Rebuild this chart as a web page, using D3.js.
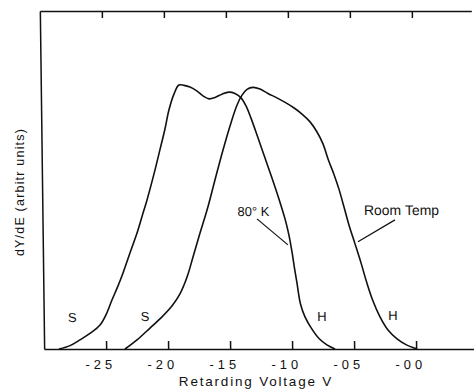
<!DOCTYPE html>
<html><head><meta charset="utf-8">
<script src="https://cdn.jsdelivr.net/npm/d3@7"></script>
<style>body{margin:0;background:#fff}svg{display:block}</style>
</head><body><svg id="c" width="474" height="389"></svg>
<script>
// ---- data ----
const xTickValues = [-25, -20, -15, -10, -5, 0];
const xTickLabels = ["-25", "-20", "-15", "-10", "-05", "-00"];
const xTitle = "Retarding Voltage V";
const yTitle = "dY/dE (arbitr units)";

const curve80K_V = [-28.80, -27.91, -27.10, -26.29, -25.47, -24.98, -24.48, -24.02, -23.56, -22.98, -22.39, -21.97, -21.55, -20.96, -20.46, -20.03, -19.69, -19.27, -18.86, -18.45, -17.97, -17.40, -16.93, -16.44, -15.96, -15.40, -14.83, -14.35, -13.86, -13.47, -13.08, -12.53, -11.99, -11.45, -10.91, -10.44, -10.14, -9.91, -9.73, -9.54, -9.28, -8.93, -8.42, -7.82, -7.19, -6.54];
const curve80K_Y = [0, 1.0, 2.7, 4.6, 7.1, 10.1, 14.5, 18.3, 22.5, 28.4, 34.3, 39.2, 44.1, 51.8, 58.9, 65.1, 70.7, 75.4, 78.1, 78.0, 77.5, 76.3, 74.9, 74.0, 74.4, 75.4, 76.0, 75.6, 74.3, 71.9, 68.3, 62.4, 56.5, 50.6, 44.4, 38.5, 33.7, 28.7, 24.0, 19.5, 13.3, 9.5, 6.1, 3.1, 1.2, 0];

const curveRoom_V = [-23.48, -22.50, -21.44, -20.46, -19.65, -18.99, -18.40, -17.90, -17.31, -16.72, -16.05, -15.37, -14.70, -14.19, -13.78, -13.37, -12.89, -12.32, -11.69, -10.97, -10.24, -9.59, -8.96, -8.32, -7.77, -7.30, -6.88, -6.46, -6.06, -5.67, -5.29, -4.82, -4.35, -3.90, -3.43, -2.88, -2.25, -1.53, -0.81, 0.07];
const curveRoom_Y = [0, 2.7, 6.2, 9.5, 12.7, 16.3, 21.3, 27.2, 34.3, 41.1, 50.0, 58.9, 66.9, 72.2, 75.1, 76.8, 77.4, 76.9, 75.6, 74.3, 72.8, 71.3, 69.5, 67.2, 64.2, 60.7, 55.9, 51.8, 47.3, 42.0, 36.7, 31.1, 25.4, 19.5, 14.2, 9.5, 5.6, 3.0, 1.3, 0];

const curveNames = ["80° K", "Room Temp"];
const edgeLabels = ["S", "S", "H", "H"];

// ---- layout ----
const x = d3.scaleLinear().domain([-30, 4.8]).range([42, 473.5]);
const y = d3.scaleLinear().domain([0, 100]).range([349, 11]);

const svg = d3.select("#c");
const g = svg.append("g")
  .attr("transform", "translate(0,181) skewX(0.73) translate(0,-181)");

const font = "'Liberation Sans', Arial, sans-serif";
const ink = "#111";

// bottom axis (ticks pointing up)
const xb = g.append("g").attr("transform", `translate(0,${y(0)})`)
  .call(d3.axisBottom(x).tickValues(xTickValues)
    .tickFormat((d, i) => xTickLabels[i])
    .tickSizeInner(-8).tickSizeOuter(0).tickPadding(11));
xb.selectAll("text").attr("font-family", font).attr("font-size", 13)
  .attr("letter-spacing", "4px").attr("dx", "-6px").attr("fill", ink);

// top axis (ticks pointing down, no labels)
g.append("g").attr("transform", `translate(0,${y(100)})`)
  .call(d3.axisTop(x).tickValues(xTickValues).tickFormat("")
    .tickSizeInner(-7).tickSizeOuter(0));

// left axis (line only)
g.append("g").attr("transform", `translate(${x(-30)},0)`)
  .call(d3.axisLeft(y).tickValues([]).tickSizeOuter(0));

g.selectAll(".domain, .tick line").attr("stroke", ink).attr("stroke-width", 1.5);

// curves
const line = d3.line().x(d => x(d[0])).y(d => y(d[1])).curve(d3.curveCatmullRom.alpha(0.5));
const c1 = curve80K_V.map((v, i) => [v, curve80K_Y[i]]);
const c2 = curveRoom_V.map((v, i) => [v, curveRoom_Y[i]]);
[c1, c2].forEach(c => g.append("path").datum(c).attr("d", line)
  .attr("fill", "none").attr("stroke", ink).attr("stroke-width", 1.6)
  .attr("stroke-linejoin", "round"));

// edge labels
const edgePos = [[-27.7, 9.2], [-21.84, 9.5], [-7.56, 9.5], [-1.84, 9.8]];
edgeLabels.forEach((t, i) => g.append("text")
  .attr("x", x(edgePos[i][0])).attr("y", y(edgePos[i][1]))
  .attr("text-anchor", "middle").attr("dominant-baseline", "central")
  .attr("font-family", font).attr("font-size", 13).attr("fill", ink).text(t));

// curve name labels + leaders
const namePos = [[-12.98, 40.8], [-1.04, 41.2]];
const nameSize = [13, 14];
const leaders = [[[-12.70, 38.5], [-10.23, 30.8]], [[-1.57, 38.2], [-4.58, 31.7]]];
curveNames.forEach((t, i) => {
  g.append("text").attr("x", x(namePos[i][0])).attr("y", y(namePos[i][1]))
    .attr("text-anchor", "middle").attr("dominant-baseline", "central")
    .attr("font-family", font).attr("font-size", nameSize[i]).attr("fill", ink).text(t);
  g.append("line")
    .attr("x1", x(leaders[i][0][0])).attr("y1", y(leaders[i][0][1]))
    .attr("x2", x(leaders[i][1][0])).attr("y2", y(leaders[i][1][1]))
    .attr("stroke", ink).attr("stroke-width", 1.2);
});

// axis titles
svg.append("text").attr("x", 256).attr("y", 386)
  .attr("text-anchor", "middle").attr("font-family", font).attr("font-size", 13.5)
  .attr("letter-spacing", "1.8px").attr("fill", ink).text(xTitle);
svg.append("text").attr("transform", "translate(24,192) rotate(-90)")
  .attr("text-anchor", "middle").attr("font-family", font).attr("font-size", 12.5)
  .attr("letter-spacing", "1.2px").attr("fill", ink).text(yTitle);
</script></body></html>
